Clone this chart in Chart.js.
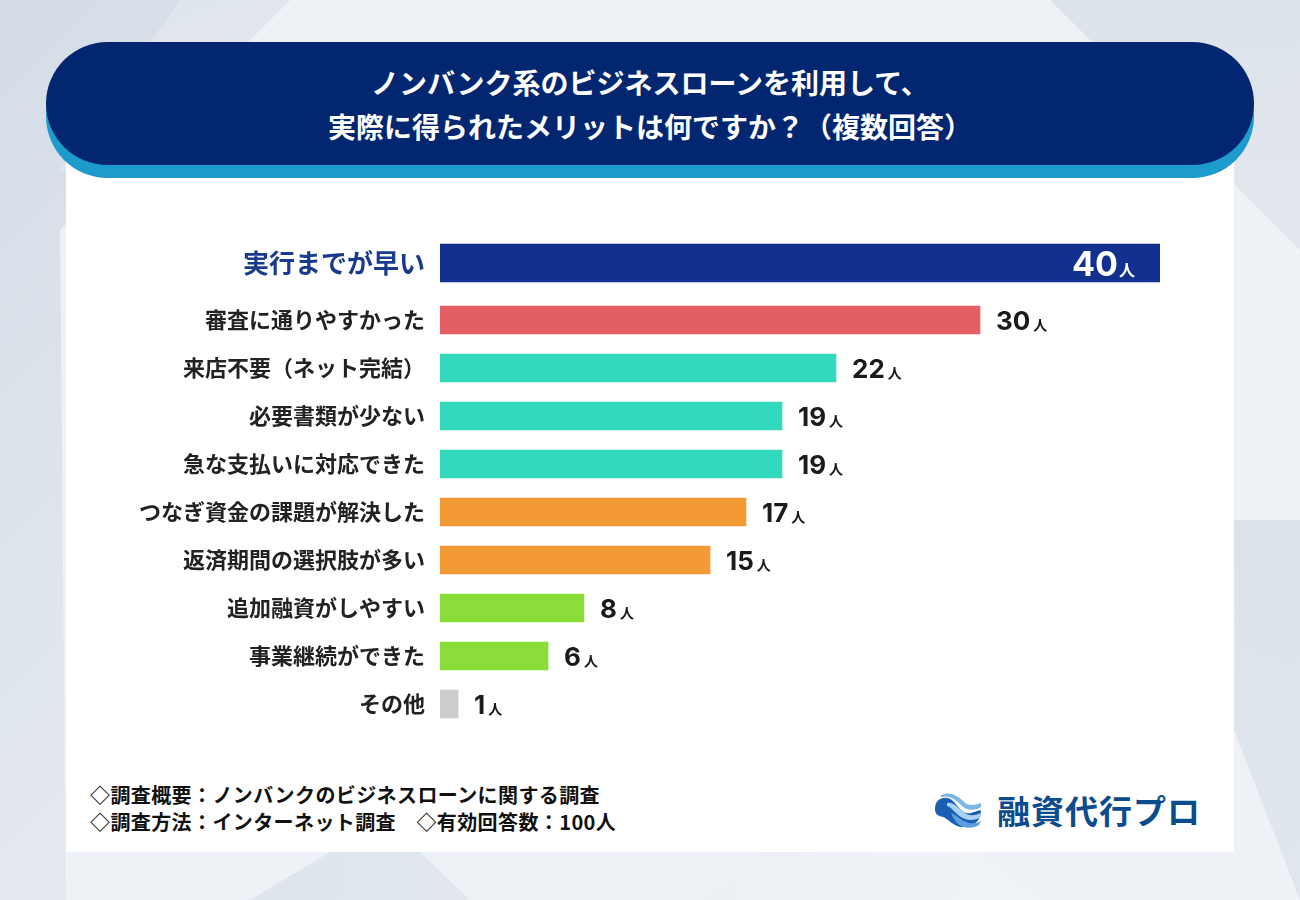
<!DOCTYPE html>
<html lang="ja">
<head>
<meta charset="utf-8">
<title>ノンバンク系ビジネスローンのメリット</title>
<script src="https://cdn.jsdelivr.net/npm/chart.js@4"></script>
<style>
  html, body { margin: 0; padding: 0; }
  body {
    width: 1300px; height: 900px; position: relative; overflow: hidden;
    background: #eef1f5;
    font-family: "Noto Sans CJK JP", "Noto Sans", sans-serif;
  }
  .shape { position: absolute; }
  #card { position: absolute; left: 66px; top: 110px; width: 1168px; height: 742px; background: #fff; }
  .pill { position: absolute; left: 46px; width: 1208px; height: 123px; border-radius: 62px; }
  #pillShadow { top: 55px; background: #1e9bcd; }
  #pill { top: 42px; background: #02266f; color: #fff; text-align: center; font-weight: 700; font-size: 28px; line-height: 40px; }
  #pill div { position: absolute; left: 0; right: 0; }
  .canvas-box { position: absolute; left: 66px; width: 1168px; }
  #topBox { top: 235px; height: 56px; }
  #mainBox { top: 296px; height: 432px; }
  #notes { position: absolute; left: 90px; top: 781px; font-size: 20px; letter-spacing: 0.4px; font-weight: 700; color: #111; line-height: 27px; }
  #logo { position: absolute; left: 933px; top: 786px; display: flex; align-items: center; }
  #logo span { font-size: 33px; font-weight: 700; color: #0c4c8c; margin-left: 14px; letter-spacing: 1px; }
</style>
</head>
<body>
<!-- background facets -->
<div class="shape" style="left:0;top:0;width:300px;height:900px;background:linear-gradient(135deg,#d4dce6,#e9edf2);clip-path:polygon(0 0,290px 0,60px 230px,66px 900px,0 900px)"></div>
<div class="shape" style="left:0;top:0;width:1300px;height:900px;background:linear-gradient(160deg,#dfe5ec,#f2f4f7);clip-path:polygon(180px 0,290px 0,120px 170px,60px 170px)"></div>
<div class="shape" style="left:0;top:0;width:1300px;height:900px;background:linear-gradient(200deg,#d3dce6,#e8ecf1);clip-path:polygon(1234px 520px,1300px 520px,1300px 900px,1234px 730px)"></div>
<div class="shape" style="left:0;top:0;width:1300px;height:900px;background:linear-gradient(180deg,#dde3ea,#f0f3f6);clip-path:polygon(1050px 0,1300px 0,1300px 250px)"></div>
<div class="shape" style="left:0;top:0;width:1300px;height:900px;background:linear-gradient(90deg,#dbe2ea,#eef1f5);clip-path:polygon(250px 900px,330px 852px,420px 852px,470px 900px)"></div>
<div class="shape" style="left:0;top:0;width:1300px;height:900px;background:linear-gradient(90deg,#e4e9ef,#f3f5f8);clip-path:polygon(700px 900px,760px 852px,980px 852px,1040px 900px)"></div>

<div id="card"></div>
<div class="pill" id="pillShadow"></div>
<div class="pill" id="pill">
  <div style="top:20px">ノンバンク系のビジネスローンを利用して、</div>
  <div style="top:64px">実際に得られたメリットは何ですか？（複数回答）</div>
</div>

<div class="canvas-box" id="topBox"><canvas id="topChart"></canvas></div>
<div class="canvas-box" id="mainBox"><canvas id="mainChart"></canvas></div>

<div id="notes">
  <div>◇調査概要：ノンバンクのビジネスローンに関する調査</div>
  <div>◇調査方法：インターネット調査　◇有効回答数：100人</div>
</div>

<div id="logo">
  <svg width="50" height="42" viewBox="0 0 50 42">
    <path d="M2 20 C2 8 14 6 20 12 C26 18 30 26 38 24 C44 22 48 20 48 22 C48 32 40 38 30 38 C20 38 16 30 10 28 C6 27 2 26 2 20 Z" fill="#1b5fb4"/>
    <path d="M8 6 C16 2 24 6 30 12 C36 18 42 16 48 14 L48 18 C42 22 34 22 28 16 C22 10 16 6 8 8 Z" fill="#7ab6e6"/>
    <path d="M14 14 C20 12 26 20 32 24 C38 28 44 26 48 24 L48 28 C42 32 34 32 28 28 C22 24 18 18 14 17 Z" fill="#a8d2f2"/>
    <path d="M18 24 C24 26 28 32 36 34 C42 35 46 33 48 32 L46 36 C40 40 30 40 24 34 C21 30 19 27 18 24 Z" fill="#5b9fe0"/>
  </svg>
  <span>融資代行プロ</span>
</div>

<script>
const categories = [
  '実行までが早い',
  '審査に通りやすかった',
  '来店不要（ネット完結）',
  '必要書類が少ない',
  '急な支払いに対応できた',
  'つなぎ資金の課題が解決した',
  '返済期間の選択肢が多い',
  '追加融資がしやすい',
  '事業継続ができた',
  'その他'
];
const counts = [40, 30, 22, 19, 19, 17, 15, 8, 6, 1];
const barColors = [
  '#12318e', '#e35f63', '#33d9bd', '#33d9bd', '#33d9bd',
  '#f49a35', '#f49a35', '#8bdd3a', '#8bdd3a', '#cccccc'
];
const unit = '人';
const axisMax = 40;

const jpFont = '"Noto Sans CJK JP", sans-serif';
const numFont = 'Inter, "Noto Sans", sans-serif';

// draws "NN人" next to (or inside) each bar
const valueLabels = {
  id: 'valueLabels',
  afterDatasetsDraw(chart) {
    const ctx = chart.ctx;
    const inside = chart.options.plugins.valueLabels.inside;
    const meta = chart.getDatasetMeta(0);
    const data = chart.data.datasets[0].data;
    ctx.save();
    meta.data.forEach((bar, i) => {
      const num = String(data[i]);
      ctx.textBaseline = 'alphabetic';
      if (inside) {
        ctx.fillStyle = '#ffffff';
        ctx.textAlign = 'right';
        ctx.font = '700 16px ' + jpFont;
        ctx.fillText(unit, bar.x - 25, bar.y + 12.5);
        ctx.font = '700 34px ' + numFont;
        ctx.fillText(num, bar.x - 42, bar.y + 12.5);
      } else {
        ctx.fillStyle = '#1a1a1a';
        ctx.textAlign = 'left';
        ctx.font = '700 26px ' + numFont;
        const x = bar.x + 16;
        ctx.fillText(num, x, bar.y + 9.5);
        const w = ctx.measureText(num).width;
        ctx.font = '700 14px ' + jpFont;
        ctx.fillText(unit, x + w + 3, bar.y + 9.5);
      }
    });
    ctx.restore();
  }
};

function makeChart(id, labels, values, colors, thickness, tickFont, tickColor, inside) {
  return new Chart(document.getElementById(id), {
    type: 'bar',
    data: {
      labels: labels,
      datasets: [{
        data: values,
        backgroundColor: colors,
        barThickness: thickness,
        borderWidth: 0
      }]
    },
    options: {
      indexAxis: 'y',
      responsive: true,
      maintainAspectRatio: false,
      animation: false,
      layout: { padding: { left: 0, right: 74, top: 0, bottom: 0 } },
      scales: {
        x: { display: false, min: 0, max: axisMax },
        y: {
          grid: { display: false },
          border: { display: false },
          ticks: {
            padding: 7,
            color: tickColor,
            font: { family: jpFont, size: tickFont, weight: '700' }
          },
          afterFit(scale) {
            // fixed label column, no extra vertical room for labels
            scale.width = 374;
            scale.paddingTop = 0;
            scale.paddingBottom = 0;
          }
        }
      },
      plugins: {
        legend: { display: false },
        tooltip: { enabled: false },
        valueLabels: { inside: inside }
      }
    },
    plugins: [valueLabels]
  });
}

makeChart('topChart', categories.slice(0, 1), counts.slice(0, 1), barColors.slice(0, 1), 38, 26, '#1a3a8f', true);
makeChart('mainChart', categories.slice(1), counts.slice(1), barColors.slice(1), 28, 22, '#222222', false);
</script>
</body>
</html>
